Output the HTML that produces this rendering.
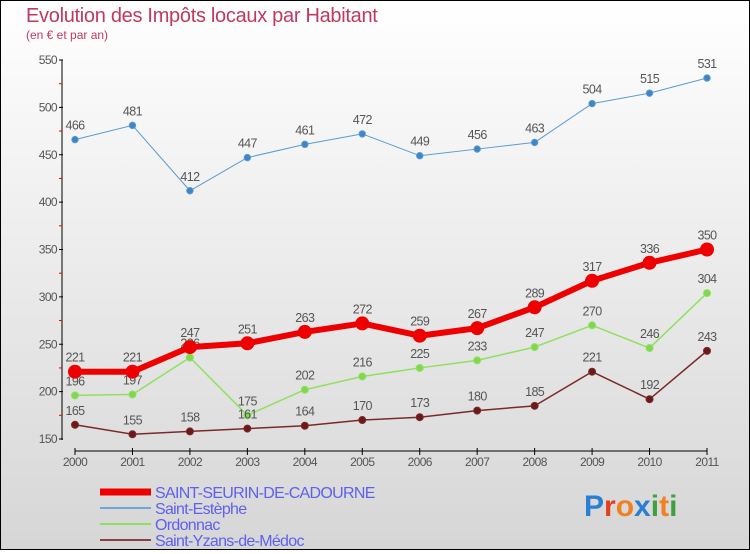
<!DOCTYPE html>
<html><head><meta charset="utf-8"><style>
html,body{margin:0;padding:0;}
body{width:750px;height:550px;overflow:hidden;font-family:"Liberation Sans",sans-serif;}
#wrap{position:relative;width:748px;height:548px;border:1px solid #000;background:linear-gradient(#ffffff,#d6d6d6);}
</style></head><body>
<div id="wrap">
<svg id="chart" width="748" height="548" viewBox="1 1 748 548" xmlns="http://www.w3.org/2000/svg">
<text x="26" y="22" font-size="20" fill="#c0395f" letter-spacing="-0.3">Evolution des Impôts locaux par Habitant</text>
<text x="26" y="39" font-size="12" fill="#c0395f">(en € et par an)</text>
<g id="axes"></g>
<g id="series"></g>
<g id="legend"></g>
<text x="584" y="516" font-size="30" font-weight="bold"><tspan fill="#2a7fd4">P</tspan><tspan fill="#e04020">r</tspan><tspan fill="#f08020">o</tspan><tspan fill="#2a7fd4">x</tspan><tspan fill="#40a040">i</tspan><tspan fill="#f08020">t</tspan><tspan fill="#40a040">i</tspan></text>
</svg>
</div>
<script>
const years=["2000","2001","2002","2003","2004","2005","2006","2007","2008","2009","2010","2011"];
const yTicks=[150,200,250,300,350,400,450,500,550];
const seriesNames=["SAINT-SEURIN-DE-CADOURNE","Saint-Estèphe","Ordonnac","Saint-Yzans-de-Médoc"];
const vSeurin=[221,221,247,251,263,272,259,267,289,317,336,350];
const vEstephe=[466,481,412,447,461,472,449,456,463,504,515,531];
const vOrdonnac=[196,197,236,175,202,216,225,233,247,270,246,304];
const vYzans=[165,155,158,161,164,170,173,180,185,221,192,243];
const NS="http://www.w3.org/2000/svg";
const x0=75,x1=707,yTop=60,yBot=439,vMin=150,vMax=550;
function xs(i){return x0+(x1-x0)*i/(years.length-1);}
function ys(v){return yBot-(v-vMin)*(yBot-yTop)/(vMax-vMin);}
function mk(tag,attrs,parent){const e=document.createElementNS(NS,tag);for(const k in attrs)e.setAttribute(k,attrs[k]);parent.appendChild(e);return e;}
const axes=document.getElementById('axes');
let l=mk('line',{x1:62,y1:yTop,x2:62,y2:yBot+1,stroke:'#000','stroke-width':1},axes);


yTicks.forEach((t,i)=>{
 const y=ys(t);
 const tk=mk('line',{x1:59,y1:y,x2:63,y2:y,stroke:'#000'},axes);
 
 
 const tx=mk('text',{x:57,y:y+4,'font-size':12,fill:'#555','text-anchor':'end','letter-spacing':'-0.6'},axes);
 tx.textContent=t;
 
 
 if(i<yTicks.length-1){
  const m=ys(t+25);
  const mt=mk('line',{x1:59,y1:m,x2:62,y2:m,stroke:'#e00'},axes);
  
  
 }
});
l=mk('line',{x1:x0,y1:451,x2:x1,y2:451,stroke:'#000','stroke-width':1},axes);


years.forEach((yr,i)=>{
 const x=xs(i);
 const tk=mk('line',{x1:x,y1:448,x2:x,y2:455,stroke:'#000'},axes);
 
 
 const tx=mk('text',{x:x,y:466,'font-size':12,fill:'#555','text-anchor':'middle','letter-spacing':'-0.6'},axes);
 tx.textContent=yr;
 
 
});
const sg=document.getElementById('series');
function draw(vals,color,dot,w,r,name){
 const g=mk('g',{},sg);
 
 
 const pl=mk('polyline',{points:vals.map((v,i)=>xs(i)+','+ys(v)).join(' '),fill:'none',stroke:color,'stroke-width':w,'stroke-linejoin':'round'},g);
 
 
 vals.forEach((v,i)=>{
  const c=mk('circle',{cx:xs(i),cy:ys(v),r:r,fill:dot,stroke:color,'stroke-width':1},g);
  
  
  const t=mk('text',{x:xs(i),y:ys(v)-10,'font-size':12.5,fill:'#555','text-anchor':'middle','letter-spacing':'-0.6'},g);
  t.textContent=v;
  
  
 });
}
draw(vEstephe,'#5b9bd0','#3f84c4',1,3.2,'saint-estephe');
draw(vOrdonnac,'#90e060','#80d850',1.5,3.5,'ordonnac');
draw(vYzans,'#7a2a2a','#6a1a1a',1.5,3.5,'saint-yzans');
draw(vSeurin,'#ee0000','#ee0000',6,6.5,'saint-seurin');
const lg=document.getElementById('legend');
const lc=['#ee0000','#6fa8d8','#90e060','#8a4040'];
const lw=[7,2,2,2];
seriesNames.forEach((n,i)=>{
 const y=492+i*16;
 const ln=mk('line',{x1:100,y1:y,x2:151,y2:y,stroke:lc[i],'stroke-width':lw[i]},lg);
 
 
 const t=mk('text',{x:155,y:y+6,'font-size':16,fill:'#6060f0','letter-spacing':'-0.7'},lg);
 t.textContent=n;
 
 
});
</script>
</body></html>
